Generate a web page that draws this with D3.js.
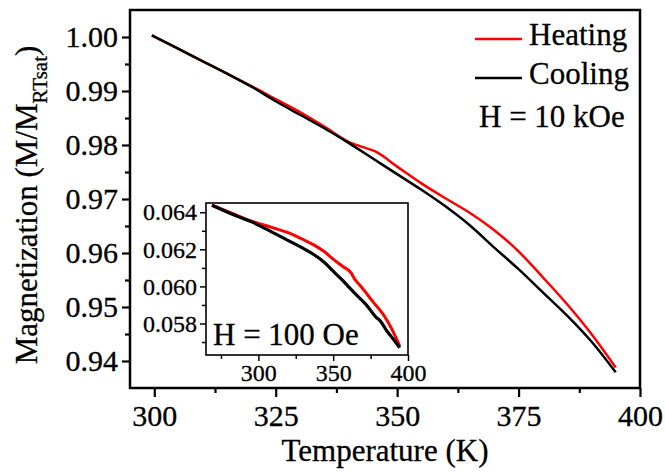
<!DOCTYPE html>
<html><head><meta charset="utf-8">
<script src="https://cdn.jsdelivr.net/npm/d3@7"></script>
<style>
body{margin:0;background:#fff}
svg{display:block}
</style>
</head><body>
<svg id="chart" width="665" height="472"></svg>
<script>
// ---- Main panel data (H = 10 kOe) ----
const heatTemps = [299.5,305,310,315,320,325,330,335,340,343,345.5,350,355,360,365,370,375,380,385,390,395];
const heatVals  = [1.0003,0.9978,0.9955,0.9932,0.9909,0.9885,0.9861,0.9834,0.9806,0.9796,0.9788,0.9760,0.9729,0.9701,0.9674,0.9642,0.9603,0.9555,0.9505,0.9450,0.9388];
const coolTemps = [299.5,305,310,315,320,325,330,335,340,345,350,355,360,365,370,375,380,385,390,395];
const coolVals  = [1.0003,0.9978,0.9955,0.9932,0.9908,0.9881,0.9856,0.9831,0.9804,0.9775,0.9746,0.9717,0.9686,0.9651,0.9610,0.9570,0.9527,0.9484,0.9436,0.9379];
const xTicks = [300,325,350,375,400];
const xMinor = [312.5,337.5,362.5,387.5];
const yTicks = [0.94,0.95,0.96,0.97,0.98,0.99,1.00];
const yMinor = [0.945,0.955,0.965,0.975,0.985,0.995];

// ---- Inset data (H = 100 Oe) ----
const inHeatTemps = [269,283,297,310,323,330,337,344,350,356,362,364.3,368,372,376,381,385,388,391,394.5];
const inHeatVals  = [0.06438,0.06392,0.06348,0.06316,0.0628,0.06253,0.06224,0.06188,0.06147,0.06110,0.06073,0.06040,0.06005,0.05965,0.05923,0.05875,0.05830,0.05788,0.05740,0.05678];
const inCoolTemps = [269,283,297,310,323,330,337,344,350,356,361,366,372,379,381,386,390,394.5];
const inCoolVals  = [0.06438,0.06388,0.06343,0.06289,0.06235,0.06205,0.06172,0.06130,0.06082,0.06035,0.05992,0.05950,0.05902,0.05831,0.05818,0.05758,0.05718,0.05669];
const inXTicks = [300,350,400];
const inXMinor = [275,325,375];
const inYTicks = [0.058,0.060,0.062,0.064];
const inYMinor = [0.057,0.059,0.061,0.063];

const legendLabels = ["Heating","Cooling"];
const legendColors = ["#ff0000","#000000"];

const FONT = '"Liberation Serif"';
const svg = d3.select("#chart");

function txt(sel){
  return sel.attr("font-family","Liberation Serif").style("font-family",FONT)
    .attr("fill","#000").attr("stroke","#000").attr("stroke-width",0.3);
}

// main scales
const x = d3.scaleLinear().domain([295,400]).range([130,640]);
const y = d3.scaleLinear().domain([0.935,1.005]).range([388,10]);

function styleAxis(g, fs, sw){
  g.attr("font-family","Liberation Serif").attr("font-size",fs);
  g.select(".domain").remove();
  g.selectAll("line").attr("stroke","#000").attr("stroke-width", sw);
  txt(g.selectAll("text")).style("font-size", fs+"px");
}

// main axes
const gx = svg.append("g").attr("transform","translate(0,388)")
  .call(d3.axisBottom(x).tickValues(xTicks).tickSize(9).tickPadding(8).tickFormat(d3.format("d")));
styleAxis(gx,30,2.2);
const gxm = svg.append("g").attr("transform","translate(0,388)")
  .call(d3.axisBottom(x).tickValues(xMinor).tickSize(5).tickFormat(""));
styleAxis(gxm,30,2.2);
const gy = svg.append("g").attr("transform","translate(130,0)")
  .call(d3.axisLeft(y).tickValues(yTicks).tickSize(8).tickPadding(4).tickFormat(d3.format(".2f")));
styleAxis(gy,30,2.2);
const gym = svg.append("g").attr("transform","translate(130,0)")
  .call(d3.axisLeft(y).tickValues(yMinor).tickSize(5).tickFormat(""));
styleAxis(gym,30,2.2);

// main frame
svg.append("rect").attr("x",130).attr("y",10).attr("width",510).attr("height",378)
  .attr("fill","none").attr("stroke","#000").attr("stroke-width",2.5);

// main lines
const line = d3.line().x(d=>x(d[0])).y(d=>y(d[1])).curve(d3.curveMonotoneX);
svg.append("path").datum(heatTemps.map((t,i)=>[t,heatVals[i]]))
  .attr("d",line).attr("fill","none").attr("stroke","#ff0000").attr("stroke-width",2.5);
svg.append("path").datum(coolTemps.map((t,i)=>[t,coolVals[i]]))
  .attr("d",line).attr("fill","none").attr("stroke","#000").attr("stroke-width",2.5);

// legend
legendLabels.forEach((lab,i)=>{
  const ly = 39 + i*39;
  svg.append("line").attr("x1",475).attr("x2",522).attr("y1",ly).attr("y2",ly)
    .attr("stroke",legendColors[i]).attr("stroke-width",2.4);
  txt(svg.append("text")).attr("x",529).attr("y",ly+6)
    .style("font-size","31px").text(lab);
});
txt(svg.append("text")).attr("x",479).attr("y",127).style("font-size","31px").text("H = 10 kOe");

// axis titles
txt(svg.append("text")).attr("x",385).attr("y",461).attr("text-anchor","middle")
  .style("font-size","31px").text("Temperature (K)");
const yt = txt(svg.append("text")).attr("transform","translate(37,205) rotate(-90)")
  .attr("text-anchor","middle").style("font-size","31px");
yt.append("tspan").text("Magnetization (M/M");
yt.append("tspan").attr("dy",10).style("font-size","21px").text("RTsat");
yt.append("tspan").attr("dy",-10).text(")");

// ---- inset ----
const ix = d3.scaleLinear().domain([265,400]).range([206,408]);
const iy = d3.scaleLinear().domain([0.0563,0.0645]).range([355,203]);

svg.append("rect").attr("x",206).attr("y",203).attr("width",202).attr("height",152)
  .attr("fill","#fff").attr("stroke","none");

const igx = svg.append("g").attr("transform","translate(0,355)")
  .call(d3.axisBottom(ix).tickValues(inXTicks).tickSize(6).tickPadding(3).tickFormat(d3.format("d")));
styleAxis(igx,24,1.5);
const igxm = svg.append("g").attr("transform","translate(0,355)")
  .call(d3.axisBottom(ix).tickValues(inXMinor).tickSize(4).tickFormat(""));
styleAxis(igxm,24,1.5);
const igy = svg.append("g").attr("transform","translate(206,0)")
  .call(d3.axisLeft(iy).tickValues(inYTicks).tickSize(6).tickPadding(3).tickFormat(d3.format(".3f")));
styleAxis(igy,24,1.5);
const igym = svg.append("g").attr("transform","translate(206,0)")
  .call(d3.axisLeft(iy).tickValues(inYMinor).tickSize(4).tickFormat(""));
styleAxis(igym,24,1.5);

svg.append("rect").attr("x",206).attr("y",203).attr("width",202).attr("height",152)
  .attr("fill","none").attr("stroke","#000").attr("stroke-width",1.6);

const iline = d3.line().x(d=>ix(d[0])).y(d=>iy(d[1])).curve(d3.curveMonotoneX);
svg.append("path").datum(inHeatTemps.map((t,i)=>[t,inHeatVals[i]]))
  .attr("d",iline).attr("fill","none").attr("stroke","#ff0000").attr("stroke-width",3).attr("stroke-linejoin","round");
svg.append("path").datum(inCoolTemps.map((t,i)=>[t,inCoolVals[i]]))
  .attr("d",iline).attr("fill","none").attr("stroke","#000").attr("stroke-width",3.2).attr("stroke-linejoin","round");

txt(svg.append("text")).attr("x",213).attr("y",345).style("font-size","31px").text("H = 100 Oe");
</script>
</body></html>
